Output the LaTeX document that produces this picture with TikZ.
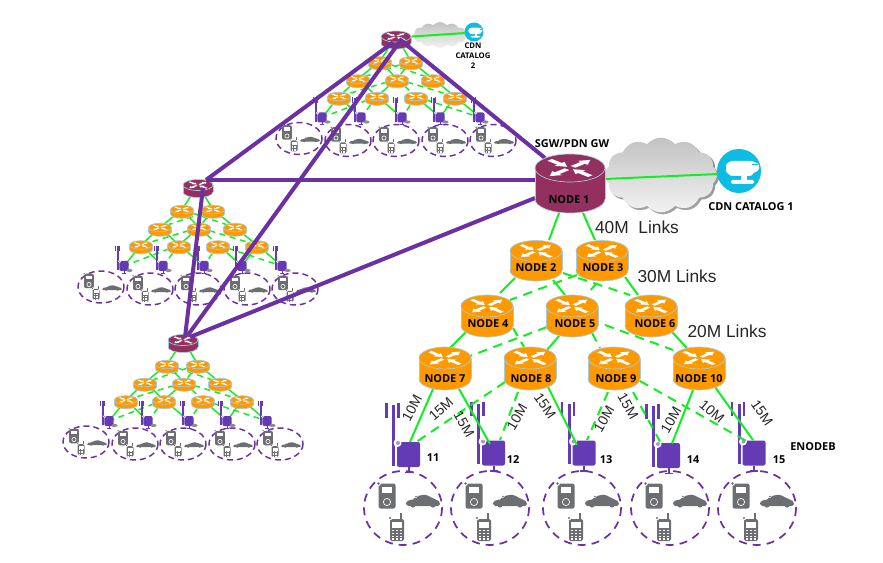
\documentclass[tikz,border=0pt]{standalone}
\usepackage{fontspec}
\setmainfont{Liberation Sans}
\newfontfamily\boldlab{Open Sans}
\usetikzlibrary{shapes.symbols,calc}
\definecolor{gr}{HTML}{12EE22}
\definecolor{pu}{HTML}{6B30A2}
\definecolor{enbc}{HTML}{643BB4}
\definecolor{ora}{HTML}{FF9900}
\definecolor{mar}{HTML}{93305F}
\definecolor{edg}{HTML}{A6CBDD}
\definecolor{dev}{HTML}{6D6E71}
\definecolor{cya}{HTML}{0CBCE2}
\tikzset{
  gs/.style={draw=gr,line width=1.5pt},
  gd/.style={draw=gr,line width=1.5pt,dash pattern=on 7pt off 5pt},
  mgs/.style={draw=gr,line width=1.1pt},
  mgd/.style={draw=gr,line width=1.1pt,dash pattern=on 4.5pt off 3.5pt},
  trunk/.style={draw=pu,line width=3pt},
  cell big/.style={draw=pu,line width=1.3pt,dash pattern=on 6pt off 4.5pt},
  cell small/.style={draw=pu,line width=1.1pt,dash pattern=on 4.5pt off 3pt},
  linklab/.style={font=\fontsize{13}{15}\selectfont,inner sep=0pt,text=black!85},
  ratelab/.style={font=\fontsize{10.5}{12}\selectfont,inner sep=0pt,text=black!85},
  boldtxt/.style={font=\boldlab\bfseries\fontsize{8.2}{10}\selectfont,inner sep=0pt,text=black},
  smalltxt/.style={font=\boldlab\bfseries\fontsize{5.8}{7.5}\selectfont,inner sep=0pt,text=black,align=center},
  cloudface/.style={cloud,cloud puffs=12,cloud puff arc=100,aspect=1.7,inner sep=0pt,top color=black!24,bottom color=black!5},
}
\newcommand\rtr[5]{%
  \begin{scope}[shift={(#1)}]
    \filldraw[fill=#5,draw=edg,line width=.5pt] (0,#4) ellipse [x radius=#2,y radius=#3];
    \fill[#5] (-#2,0) rectangle (#2,#4);
    \draw[edg,line width=.5pt] (-#2,0) -- (-#2,#4) (#2,0) -- (#2,#4);
    \filldraw[fill=#5,draw=edg,line width=.5pt] (0,0) ellipse [x radius=#2,y radius=#3];
    \begin{scope}[xscale=#2,yscale=#3]
      \foreach \a in {45,225}
        \fill[white,rotate=\a] (.12,-.09) -- (.52,-.09) -- (.52,-.2) -- (.82,0) -- (.52,.2) -- (.52,.09) -- (.12,.09) -- cycle;
      \foreach \a in {135,-45}
        \fill[white,rotate=\a] (.82,-.09) -- (.42,-.09) -- (.42,-.2) -- (.12,0) -- (.42,.2) -- (.42,.09) -- (.82,.09) -- cycle;
    \end{scope}
  \end{scope}}
\newcommand\enb[2]{%
  \begin{scope}[shift={(#1)},scale=#2]
    \fill[enbc] (-16.5,-49) rectangle (-13.5,11);
    \fill[enbc] (-23.5,-51) rectangle (-21,-37);
    \fill[enbc] (-11.5,-51) rectangle (-9,-37);
    \fill[enbc,rounded corners=1.5] (-11.5,-12.5) rectangle (11.5,12.5);
    \fill[enbc] (-1,12.5) rectangle (1,18);
    \fill[enbc] (-4,17) rectangle (4,18.5);
    \fill[white] (-11,-11.5) circle [radius=4];
    \fill[enbc!55] (-10.5,-11.5) circle [radius=2];
  \end{scope}}
\newcommand\phoneic[2]{%
  \begin{scope}[shift={(#1)},scale=#2]
    \fill[dev,rounded corners=1.5] (-8.5,-12.5) rectangle (8.5,12.5);
    \fill[white] (-5,-9) rectangle (5,-3);
    \draw[white,line width=.5pt] (0,6) circle [radius=3.6];
    \fill[white] (-8.5,-12.5) circle [radius=2.4];
    \fill[dev] (-8.5,-12.5) circle [radius=1.3];
  \end{scope}}
\newcommand\cellic[2]{%
  \begin{scope}[shift={(#1)},scale=#2]
    \fill[dev,rounded corners=1.2] (-7,-8) rectangle (7,14);
    \fill[dev] (3,-14) rectangle (4.5,-8);
    \fill[white] (-5,-5) rectangle (5,1);
    \foreach \i in {-3.6,0,3.6} \foreach \j in {3.6,6.6,9.6,12}
      \fill[white] (\i-1,\j-.9) rectangle (\i+1,\j+.7);
    \fill[white] (-7,-9) circle [radius=2.2];
    \fill[dev] (-7,-9) circle [radius=1.2];
  \end{scope}}
\newcommand\caric[3]{%
  \begin{scope}[shift={(#1)},xscale=#2,yscale=#3]
    \fill[dev] (-17,3) .. controls (-17,0) and (-14,-1) .. (-10,-1.5)
       .. controls (-7,-5.5) and (0,-6.5) .. (3,-6)
       .. controls (7,-5) and (9,-2.5) .. (12,-1.8)
       .. controls (15,-1) and (17,0.5) .. (17,3)
       -- (15,5) -- (-15,5) -- cycle;
    \fill[dev] (-10,4) circle [radius=2.6] (10,4) circle [radius=2.6];
    \fill[white] (-7,-4.5) circle [radius=1.7];
    \fill[dev] (-7,-4.5) circle [radius=.9];
  \end{scope}}
\newcommand\bigcell[1]{%
  \draw[cell big] (#1) ellipse [x radius=39,y radius=37];
  \phoneic{$(#1)+(-16,-12)$}{1}
  \cellic{$(#1)+(-6,19)$}{1}
  \caric{$(#1)+(20,-7)$}{1}{1}}
\newcommand\lk[5]{\draw[#1] ([shift={(#3)}]#2) -- ([shift={(#5)}]#4);}
\newcommand\minitree[3]{%
  \coordinate (#1h) at (#2,#3);
  \foreach \nm/\dx/\dy in {a1/-16/24.5,a2/15/24.5,b1/-38/42.5,b2/1/42.5,b3/37/42.5,c1/-57/60,c2/-19/60,c3/20/60,c4/59/60,
     e1/-74/81,e2/-35/81,e3/6/81,e4/44/81,e5/84/81}
    \coordinate (#1\nm) at ({#2+\dx},{#3+\dy});
  \foreach \u/\v in {h/a1,h/a2,a1/b1,a1/b2,a2/b3,b1/c1,b1/c2,b2/c2,b3/c4,c1/e1,c1/e2,c2/e3,c3/e4,c4/e4,c4/e5}
    \draw[mgs] (#1\u) -- (#1\v);
  \foreach \u/\v in {a1/b3,a2/b1,a2/b2,b2/c1,b2/c3,b2/c4,c2/e1,c2/e2,c3/e3,c3/e5}
    \draw[mgd] (#1\u) -- (#1\v);
  \foreach \nm in {e1,e2,e3,e4,e5} \enb{#1\nm}{.4};
  \foreach \dx/\dy in {-97/102,-48/104,0/104,49/104,97/104}{
    \draw[cell small] ({#2+\dx},{#3+\dy}) ellipse [x radius=23,y radius=16];
    \phoneic{{#2+\dx-12},{#3+\dy-6}}{.58}
    \cellic{{#2+\dx-5},{#3+\dy+6}}{.5}
    \caric{{#2+\dx+11},{#3+\dy+1}}{.58}{.42}
  }
  \foreach \nm/\dx/\dy in {e1/5.5/4.5,e2/5.5/4.5,e3/5.5/4.5,e4/5.5/4.5,e5/5.5/4.5}
    \fill[black!45] ([shift={(\dx,\dy)}]#1\nm) ellipse [x radius=3,y radius=1.6];
  \foreach \nm in {a1,a2,b1,b2,b3,c1,c2,c3,c4} \rtr{#1\nm}{11.5}{4.3}{4.5}{ora};
  \rtr{#1h}{15}{5.5}{7}{mar};
}
\newcommand\cdnicon[2]{%
  \begin{scope}[shift={(#1)},scale=#2]
    \fill[cya] (0,0) circle [radius=22];
    \fill[white,rounded corners=1] (-13,-7) -- (-8,-10) -- (13,-10) -- (20,-7) -- (20,-1) -- (13,3) -- (13,5) -- (-8,5) -- (-13,1) -- cycle;
    \fill[white] (2,5) rectangle (8,9);
    \fill[white,rounded corners=1] (-8,9) rectangle (15,13);
    \draw[cya,line width=.4pt] (13,-6.5) -- (19,-6.5);
  \end{scope}}
\begin{document}
\begin{tikzpicture}[x=0.75pt,y=-0.75pt]
\useasboundingbox (0,0) rectangle (883,563);
\fill[white] (0,0) rectangle (883,563);
\coordinate (n1) at (570,168);
\coordinate (n2) at (536,251);
\coordinate (n3) at (602,251);
\coordinate (n4) at (487,306);
\coordinate (n5) at (572,306);
\coordinate (n6) at (651,306);
\coordinate (n7) at (445,358);
\coordinate (n8) at (530,358);
\coordinate (n9) at (614,358);
\coordinate (n10) at (699,358);
\coordinate (b11) at (408.5,454.5);
\coordinate (b12) at (493.5,453);
\coordinate (b13) at (584,453);
\coordinate (b14) at (668.5,455.5);
\coordinate (b15) at (754,453);
\coordinate (c11) at (403,508);
\coordinate (c12) at (490,508);
\coordinate (c13) at (582,508);
\coordinate (c14) at (670,508);
\coordinate (c15) at (757,508);
\coordinate (i1) at (739,171);
\coordinate (i2) at (474,32);
\minitree{t}{396}{36.5}
\minitree{l}{198}{185}
\minitree{r}{183}{340}
\node[cloudface,top color=black!50,bottom color=black!35,minimum width=84pt,minimum height=56pt] (cl1s) at (663,177) {};
\node[cloudface,minimum width=84pt,minimum height=56pt] (cl1) at (661,175) {};
\node[cloudface,minimum width=40pt,minimum height=19.5pt] (cl2) at (440,35) {};
\cdnicon{i1}{1}
\cdnicon{i2}{.43}
\lk{gs}{n1}{35,11}{i1}{-21,3}
\lk{gs}{th}{16,0}{i2}{-8,1}
\lk{trunk}{th}{5,4}{n1}{-25,-10}
\lk{trunk}{th}{-3,6}{lh}{8,-5}
\lk{trunk}{th}{6,2}{rh}{5,-5}
\lk{trunk}{lh}{8,-5}{n1}{-30,12}
\lk{trunk}{lh}{5,3}{rh}{2,-3}
\lk{trunk}{rh}{7,-3}{n1}{-35,30}
\enb{b11}{1}
\enb{b12}{1}
\enb{b13}{1}
\enb{b14}{1}
\enb{b15}{1}
\bigcell{c11}
\bigcell{c12}
\bigcell{c13}
\bigcell{c14}
\bigcell{c15}
\lk{gs}{n1}{-11,45}{n2}{13,-11}
\lk{gs}{n1}{13,45}{n3}{-7,-11}
\lk{gs}{n2}{-21,27}{n4}{13,-13}
\lk{gs}{n2}{17,29}{n5}{-7,-11}
\lk{gd}{n2}{27,22}{n6}{-21,-11}
\lk{gd}{n3}{-25,24}{n4}{23,-6}
\lk{gd}{n3}{-5,32}{n5}{16,-13}
\lk{gs}{n3}{23,26}{n6}{-13,-11}
\lk{gs}{n4}{-21,26}{n7}{5,-10}
\lk{gd}{n4}{26,22}{n8}{-6,-11}
\lk{gd}{n5}{-25,21}{n7}{25,-2}
\lk{gs}{n5}{-13,30}{n8}{17,-8}
\lk{gd}{n5}{20,27}{n9}{-14,-10}
\lk{gd}{n5}{33,19}{n10}{-26,-8}
\lk{gs}{n6}{21,26}{n10}{-12,-10}
\lk{gs}{n7}{-12,31}{b11}{1.5,-12.5}
\lk{gd}{n8}{-25,24}{b11}{8.5,-13}
\lk{gs}{n7}{14,31}{b12}{-3.5,-9}
\lk{gd}{n8}{-12,34}{b12}{6.5,-13}
\lk{gs}{n8}{18,29}{b13}{-7,-8}
\lk{gd}{n9}{-6,34}{b13}{3,-13}
\lk{gd}{n9}{19,34}{b14}{-8.5,-14}
\lk{gs}{n10}{-6,32}{b14}{3.5,-12}
\lk{gd}{n9}{26,23}{b15}{-6,-11}
\lk{gs}{n10}{16,29}{b15}{-1,-13}
\rtr{n1}{35}{14}{31}{mar}
\foreach \nn in {n2,n3}{\rtr{\nn}{26}{10.5}{19.5}{ora}}
\foreach \nn in {n4,n5,n6}{\rtr{\nn}{26}{11}{20}{ora}}
\foreach \nn in {n7,n8,n9,n10}{\rtr{\nn}{26}{11}{21}{ora}}
\node[boldtxt] (ln1) at (569,200) {NODE 1};
\node[boldtxt] (ln2) at (536,268) {NODE 2};
\node[boldtxt] (ln3) at (603,268) {NODE 3};
\node[boldtxt] (ln4) at (488,324) {NODE 4};
\node[boldtxt] (ln5) at (575,324) {NODE 5};
\node[boldtxt] (ln6) at (655,324) {NODE 6};
\node[boldtxt] (ln7) at (445,379) {NODE 7};
\node[boldtxt] (ln8) at (531,379) {NODE 8};
\node[boldtxt] (ln9) at (616,379) {NODE 9};
\node[boldtxt] (ln10) at (699,379) {NODE 10};
\node[boldtxt] (sgw) at (572,144) {SGW/PDN GW};
\node[boldtxt] (cat1) at (751,207) {CDN CATALOG 1};
\node[smalltxt] (cat2) at (473,56) {CDN\\CATALOG\\2};
\node[boldtxt] (enodeb) at (813,447) {ENODEB};
\node[boldtxt] (t11) at (433,458) {11};
\node[boldtxt] (t12) at (513,460) {12};
\node[boldtxt] (t13) at (606,460) {13};
\node[boldtxt] (t14) at (693,460) {14};
\node[boldtxt] (t15) at (779,460) {15};
\node[linklab] (r40) at (637,227) {40M\ \ Links};
\node[linklab] (r30) at (677,276) {30M Links};
\node[linklab] (r20) at (727,331) {20M Links};
\node[ratelab,rotate=62] (e1) at (412,408) {10M};
\node[ratelab,rotate=42] (e2) at (441,409) {15M};
\node[ratelab,rotate=-60] (e3) at (464,424) {15M};
\node[ratelab,rotate=60] (e4) at (517,417) {10M};
\node[ratelab,rotate=-55] (e5) at (545,406) {15M};
\node[ratelab,rotate=60] (e6) at (604,419) {10M};
\node[ratelab,rotate=-60] (e7) at (628,406) {15M};
\node[ratelab,rotate=60] (e8) at (671,420) {10M};
\node[ratelab,rotate=-40] (e9) at (712,412) {10M};
\node[ratelab,rotate=-55] (e10) at (762,413) {15M};
\end{tikzpicture}
\end{document}
